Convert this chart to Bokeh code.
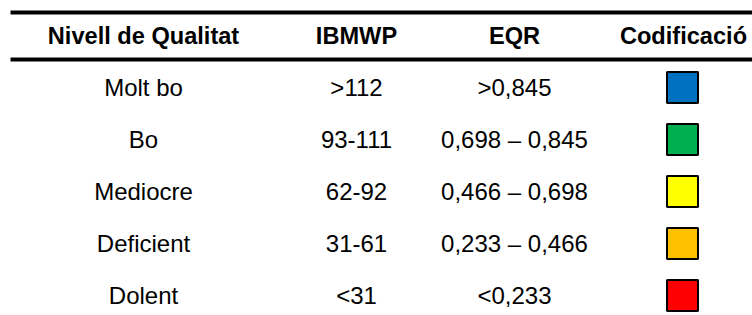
from bokeh.plotting import figure
from bokeh.models import Range1d, ColumnDataSource
from bokeh.core.properties import value
from bokeh.embed import file_html
from bokeh.resources import INLINE

# ---- data ----
headers = ["Nivell de Qualitat", "IBMWP", "EQR", "Codificació"]
levels = ["Molt bo", "Bo", "Mediocre", "Deficient", "Dolent"]
ibmwp = [">112", "93-111", "62-92", "31-61", "<31"]
eqr = [">0,845", "0,698 \u2013 0,845", "0,466 \u2013 0,698", "0,233 \u2013 0,466", "<0,233"]
colors = ["#0070C0", "#00B050", "#FFFF00", "#FFC000", "#FF0000"]

# ---- layout (pixels) ----
W, H = 752, 315
col_x = [143, 356, 514, 683]
sq_x = 682
header_y = 35
row_y0 = 87
row_step = 52
rule_y = [12, 59]
FONT = value("Liberation Sans")

p = figure(width=W, height=H, output_backend="svg", toolbar_location=None,
           x_axis_type=None, y_axis_type=None, min_border=0,
           x_range=Range1d(0, W), y_range=Range1d(H, 0))
p.outline_line_color = None
p.grid.visible = False
p.background_fill_color = "white"
p.border_fill_color = "white"

# horizontal rules
p.segment(x0=[10] * len(rule_y), x1=[W] * len(rule_y), y0=rule_y, y1=rule_y,
          line_color="black", line_width=4, line_cap="butt")

# headers
hsrc = ColumnDataSource(dict(x=col_x, y=[header_y] * len(headers), t=headers))
p.text(x="x", y="y", text="t", source=hsrc, text_font=FONT, text_font_size="23.6px",
       text_font_style="bold", text_align="center", text_baseline="middle",
       text_color="black")

rows_y = [row_y0 + i * row_step for i in range(len(levels))]
for ci, col in enumerate([levels, ibmwp, eqr]):
    src = ColumnDataSource(dict(x=[col_x[ci]] * len(col), y=rows_y, t=col))
    p.text(x="x", y="y", text="t", source=src, text_font=FONT, text_font_size="24px",
           text_align="center", text_baseline="middle", text_color="black")

ssrc = ColumnDataSource(dict(x=[sq_x] * len(colors), y=rows_y, c=colors))
p.rect(x="x", y="y", width=31, height=31, source=ssrc, fill_color="c",
       line_color="black", line_width=2)

open("out.html", "w").write(file_html(p, INLINE))
